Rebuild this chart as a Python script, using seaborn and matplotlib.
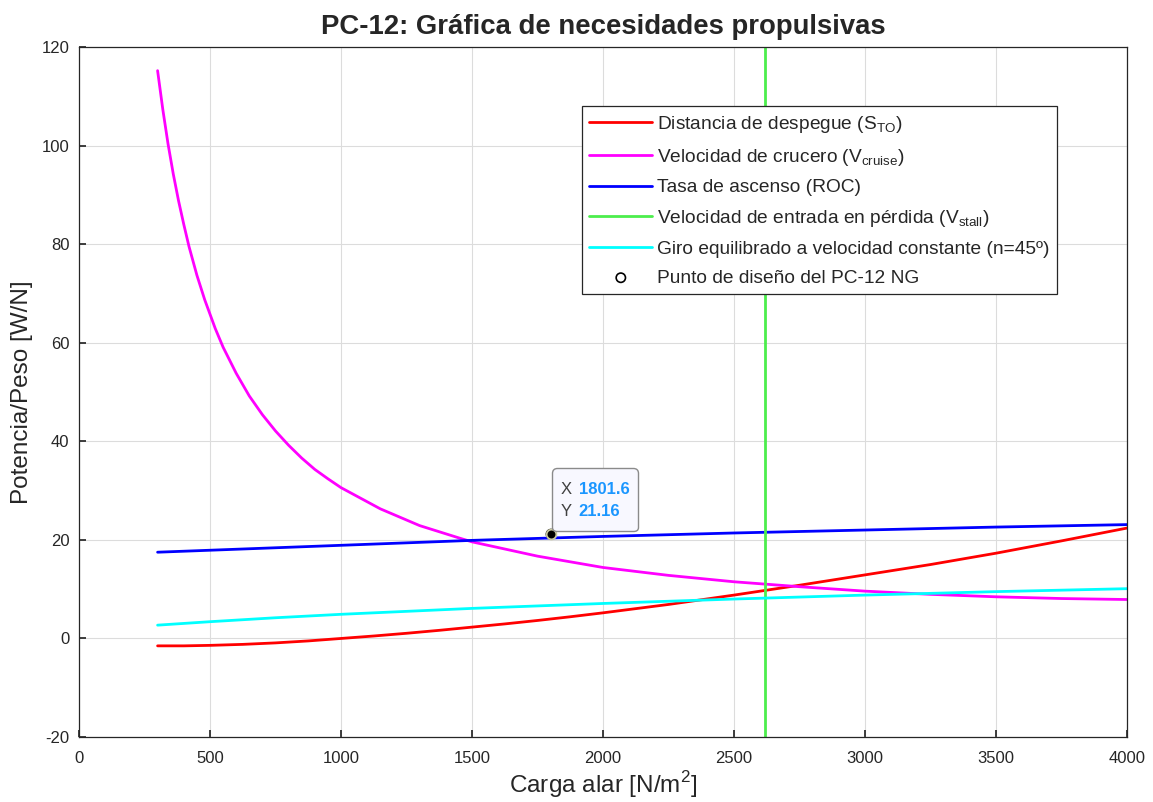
import numpy as np
import pandas as pd
import seaborn as sns
import matplotlib.pyplot as plt
from matplotlib.offsetbox import TextArea, HPacker, VPacker, DrawingArea, AnnotationBbox

# valores (carga alar en N/m2, potencia/peso en W/N)
x_sto = [300, 400, 500, 625, 750, 875, 1000, 1125, 1250, 1375, 1500, 1625, 1750, 1875, 2000,
         2250, 2500, 2750, 3000, 3250, 3500, 3750, 4000]
y_sto = [-1.5, -1.5, -1.4, -1.2, -0.9, -0.5, 0.0, 0.5, 1.05, 1.65, 2.3, 2.95, 3.65, 4.4, 5.2,
         6.9, 8.8, 10.8, 12.9, 15.0, 17.3, 19.8, 22.4]

x_cruise = [300, 320, 340, 360, 380, 400, 420, 450, 480, 520, 550, 600, 650, 700, 750, 800,
            850, 900, 950, 1000, 1150, 1300, 1450, 1500, 1750, 2000, 2250, 2500, 2750, 3000,
            3250, 3500, 3750, 4000]
y_cruise = [115.2, 107.3, 100.3, 94.2, 88.8, 84.0, 79.5, 73.7, 68.7, 62.9, 59.1, 53.8, 49.2,
            45.4, 42.1, 39.2, 36.6, 34.3, 32.4, 30.6, 26.3, 22.9, 20.4, 19.6, 16.7, 14.4, 12.8,
            11.5, 10.5, 9.6, 8.95, 8.45, 8.1, 7.9]

x_roc = [300, 500, 1000, 1500, 2000, 2500, 3000, 3500, 4000]
y_roc = [17.5, 17.9, 18.9, 19.9, 20.7, 21.4, 22.0, 22.6, 23.1]

x_stall = 2620

x_turn = [300, 500, 750, 1000, 1250, 1500, 1750, 2000, 2500, 3000, 3500, 4000]
y_turn = [2.7, 3.4, 4.2, 4.9, 5.5, 6.1, 6.6, 7.1, 8.0, 8.8, 9.5, 10.1]

design_x = [1801.6]
design_y = [21.16]

labels = ["Distancia de despegue ($\\mathregular{S_{TO}}$)",
          "Velocidad de crucero ($\\mathregular{V_{cruise}}$)",
          "Tasa de ascenso (ROC)",
          "Velocidad de entrada en pérdida ($\\mathregular{V_{stall}}$)",
          "Giro equilibrado a velocidad constante (n=45º)",
          "Punto de diseño del PC-12 NG"]

sns.set_theme(style="ticks")
plt.rcParams['font.family'] = ['Liberation Sans', 'DejaVu Sans']
plt.rcParams['mathtext.fontset'] = 'custom'
plt.rcParams['mathtext.rm'] = 'Liberation Sans'
plt.rcParams['axes.unicode_minus'] = False

fig = plt.figure(figsize=(11.53, 8.02), dpi=100)
ax = fig.add_axes([0.0685, 0.081, 0.909, 0.8604])

sns.lineplot(x=x_sto, y=y_sto, color="#ff0000", lw=2, label=labels[0], ax=ax)
sns.lineplot(x=x_cruise, y=y_cruise, color="#ff00ff", lw=2, label=labels[1], ax=ax)
sns.lineplot(x=x_roc, y=y_roc, color="#0000ff", lw=2, label=labels[2], ax=ax)
ax.axvline(x_stall, color="#4cee4c", lw=2, label=labels[3])
sns.lineplot(x=x_turn, y=y_turn, color="#00ffff", lw=2, label=labels[4], ax=ax)
sns.scatterplot(x=design_x, y=design_y, marker="o", s=45, facecolors="none",
                edgecolor="black", linewidth=1.2, label=labels[5], ax=ax, zorder=5)
# punto resaltado por el data tip
ax.plot(design_x, design_y, "o", ms=7, mfc="black", mec="#c8c8a0", mew=1.3, zorder=6)

ax.set_xlim(0, 4000)
ax.set_ylim(-20, 120)
ax.set_xticks(np.arange(0, 4001, 500))
ax.set_yticks(np.arange(-20, 121, 20))
ax.grid(True, color="#dcdcdc", lw=0.8)
ax.tick_params(direction="in", length=5, labelsize=12, colors="#262626")
ax.tick_params(axis="x", pad=10)
ax.tick_params(axis="y", pad=7)
for s in ax.spines.values():
    s.set_visible(True)
    s.set_color("#262626")
    s.set_linewidth(0.9)

ax.set_title("PC-12: Gráfica de necesidades propulsivas", fontsize=19.8, fontweight="bold", pad=9)
ax.set_xlabel("Carga alar [N/m$^2$]", fontsize=17.5, color="#262626", labelpad=2)
ax.set_ylabel("Potencia/Peso [W/N]", fontsize=17.5, color="#262626", labelpad=6)

leg = ax.legend(loc="upper left", bbox_to_anchor=(0.4795, 0.914), fontsize=13.8,
                frameon=True, fancybox=False, edgecolor="#262626", framealpha=1,
                handlelength=3.3, labelspacing=0.6, borderpad=0.4, handletextpad=0.25,
                borderaxespad=0)
leg.get_frame().set_linewidth(0.9)
leg.set_zorder(10)

# data tip
rows = []
for name, val in (("X", "%.1f" % design_x[0]), ("Y", "%.2f" % design_y[0])):
    rows.append(HPacker(children=[
        TextArea(name, textprops=dict(color="#404040", fontsize=12)),
        TextArea(val, textprops=dict(color="#1a96ff", fontsize=12, fontweight="bold"))],
        align="baseline", pad=0, sep=5))
inner = VPacker(children=rows, align="left", pad=0, sep=5)
content = VPacker(children=[DrawingArea(1, 4), inner, DrawingArea(1, 3)], align="left", pad=0, sep=0)
tip = AnnotationBbox(content, (design_x[0], design_y[0]), xybox=(7, 8), xycoords="data",
                     boxcoords="offset points", box_alignment=(0, 0), pad=0.55,
                     bboxprops=dict(boxstyle="round,pad=0.55,rounding_size=0.3",
                                    fc="#f8f8ff", ec="#8a8a8a", lw=1))
tip.set_zorder(7)
ax.add_artist(tip)

fig.savefig("out.png", dpi=100)
